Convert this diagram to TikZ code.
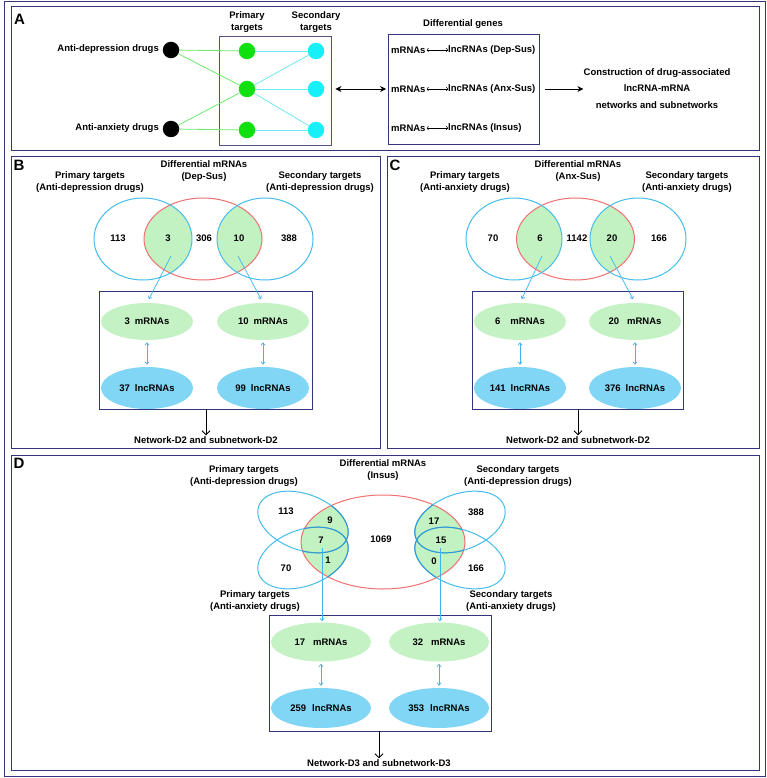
\documentclass[tikz,border=0pt]{standalone}
\usepackage{fontspec}
\setmainfont{Liberation Sans}
\usetikzlibrary{arrows.meta,shapes.geometric}
\definecolor{navy}{HTML}{34347A}
\definecolor{vblue}{HTML}{45BDEB}
\definecolor{vdblue}{HTML}{3596D0}
\definecolor{vred}{HTML}{F07070}
\definecolor{vgreen}{HTML}{C2F2C2}
\definecolor{mfill}{HTML}{C4F2C4}
\definecolor{lfill}{HTML}{80D6F4}
\definecolor{dotgreen}{HTML}{10E010}
\definecolor{dotcyan}{HTML}{18F0F8}
\definecolor{lgline}{HTML}{6CEC6C}
\definecolor{lcline}{HTML}{70E8F4}
\definecolor{arrblue}{HTML}{40B4EC}
\begin{document}
\begin{tikzpicture}[x=1pt,y=-1pt,
  txt/.style={font=\bfseries\fontsize{9.5}{12}\selectfont, align=center, inner sep=0pt},
  bigtxt/.style={font=\bfseries\fontsize{9.5}{16.5}\selectfont, align=center, inner sep=0pt},
  plabel/.style={font=\bfseries\fontsize{15}{15}\selectfont, inner sep=0pt},
  panel/.style={draw=navy, line width=1pt},
  ibox/.style={draw=navy, line width=0.9pt, inner sep=0pt},
  gbox/.style={draw=navy!60!gray, line width=0.9pt, inner sep=0pt},
  dotk/.style={circle, fill=black, minimum size=16.5pt, inner sep=0pt},
  dotg/.style={circle, fill=dotgreen, minimum size=16.5pt, inner sep=0pt},
  dotc/.style={circle, fill=dotcyan, minimum size=16.5pt, inner sep=0pt},
  gline/.style={lgline, line width=0.8pt},
  cline/.style={lcline, line width=0.8pt},
  mell/.style={ellipse, fill=mfill, minimum width=92pt, minimum height=37pt, inner sep=0pt, txt},
  lell/.style={ellipse, fill=lfill, minimum width=92pt, minimum height=42pt, inner sep=0pt, txt},
  mellD/.style={ellipse, fill=mfill, minimum width=100pt, minimum height=39pt, inner sep=0pt, txt},
  lellD/.style={ellipse, fill=lfill, minimum width=100pt, minimum height=40pt, inner sep=0pt, txt},
  barr/.style={arrblue, line width=0.7pt, -{Straight Barb[length=2.5pt,width=4pt]}},
  barr2/.style={arrblue, line width=0.7pt, {Straight Barb[length=2.5pt,width=4pt]}-{Straight Barb[length=2.5pt,width=4pt]}, shorten <=2pt, shorten >=2pt},
  karr/.style={black, line width=0.9pt, -{Straight Barb[length=4pt,width=8pt]}},
  vb/.style={vblue, line width=1pt},
  vr/.style={vred, line width=1pt},
]
\useasboundingbox (0,0) rectangle (767,778);
\fill[white] (0,0) rectangle (767,778);
% outer border and panels
\draw[panel] (4,2) rectangle (765,776);
\draw[panel] (11,7) rectangle (759,151);
\draw[panel] (11,157) rectangle (380,448);
\draw[panel] (387,157) rectangle (759,448);
\draw[panel] (11,455) rectangle (759,770);

% ================= Panel A =================
\node[plabel] (labA) at (19.5,19) {A};
\node[txt, anchor=east] (dl1) at (159,49) {Anti-depression drugs};
\node[txt, anchor=east] (dl2) at (159,128) {Anti-anxiety drugs};
\node[gbox, minimum width=112pt, minimum height=109pt] (tbox) at (275,90.5) {};
\node[txt] (ptA) at (247,22) {Primary\\targets};
\node[txt] (stA) at (316,22) {Secondary\\targets};
\node[dotk] (d1) at (171,50) {};
\node[dotk] (d2) at (171,129) {};
\node[dotg] (g1) at (247,51) {};
\node[dotg] (g2) at (247,89) {};
\node[dotg] (g3) at (247,130) {};
\node[dotc] (c1) at (316,51) {};
\node[dotc] (c2) at (316,89) {};
\node[dotc] (c3) at (316,130) {};
\draw[gline] (d1) -- (g1);
\draw[gline] (d1) -- (g2);
\draw[gline] (d2) -- (g2);
\draw[gline] (d2) -- (g3);
\draw[cline] (g1) -- (c1);
\draw[cline] (g2) -- (c1);
\draw[cline] (g2) -- (c2);
\draw[cline] (g2) -- (c3);
\draw[cline] (g3) -- (c3);

\node[ibox, minimum width=151pt, minimum height=110pt] (dgbox) at (463.5,89) {};
\node[txt] (dgt) at (463,24) {Differential genes};
\draw[black, line width=0.9pt, {Stealth[length=6pt,width=6pt]}-{Stealth[length=6pt,width=6pt]}, shorten <=4pt, shorten >=1.5pt] (tbox.east |- dgbox.west) -- (dgbox.west);

\node[txt, anchor=west] (m1) at (391,50) {mRNAs};
\node[txt, anchor=west] (l1) at (448,50) {lncRNAs (Dep-Sus)};
\node[txt, anchor=west] (m2) at (391,89) {mRNAs};
\node[txt, anchor=west] (l2) at (448,89) {lncRNAs (Anx-Sus)};
\node[txt, anchor=west] (m3) at (391,128) {mRNAs};
\node[txt, anchor=west] (l3) at (448,128) {lncRNAs (Insus)};
\draw[line width=0.5pt, {To[length=2pt,width=4pt]}-{To[length=2pt,width=4pt]}] (m1.east) ++(1pt,0) coordinate (m1e) (m1e) -- (l1.west);
\draw[line width=0.5pt, {To[length=2pt,width=4pt]}-{To[length=2pt,width=4pt]}] (m2.east) ++(1pt,0) coordinate (m2e) (m2e) -- (l2.west);
\draw[line width=0.5pt, {To[length=2pt,width=4pt]}-{To[length=2pt,width=4pt]}] (m3.east) ++(1pt,0) coordinate (m3e) (m3e) -- (l3.west);

\node[bigtxt] (cons) at (657,88.5) {Construction of drug-associated\\lncRNA-mRNA\\networks and subnetworks};
\draw[black, line width=0.9pt, -{Stealth[length=6pt,width=6pt]}, shorten <=6pt] (dgbox.east) -- (cons.west |- dgbox.east);

% ================= Panel B =================
\node[plabel] (labB) at (19,165.5) {B};
\node[txt] (dtB) at (204,171.5) {Differential mRNAs\\(Dep-Sus)};
\node[txt] (ptB) at (90,182.5) {Primary targets\\(Anti-depression drugs)};
\node[txt] (stB) at (320,182.5) {Secondary targets\\(Anti-depression drugs)};
\begin{scope}
  \clip (203,239) ellipse [x radius=59pt, y radius=41pt];
  \fill[vgreen] (143,239) ellipse [x radius=49pt, y radius=41pt];
  \fill[vgreen] (265,239) ellipse [x radius=48pt, y radius=41pt];
\end{scope}
\draw[vr] (203,239) ellipse [x radius=59pt, y radius=41pt];
\draw[vb] (143,239) ellipse [x radius=49pt, y radius=41pt];
\draw[vb] (265,239) ellipse [x radius=48pt, y radius=41pt];
\node[txt] (nB1) at (118,238) {113};
\node[txt] (nB2) at (168,238) {3};
\node[txt] (nB3) at (204,238) {306};
\node[txt] (nB4) at (239,238) {10};
\node[txt] (nB5) at (289,238) {388};
\node[ibox, minimum width=213pt, minimum height=118pt] (boxB) at (205.5,350) {};
\node[mell] (mB1) at (147,321.5) {3\hspace{5pt}mRNAs};
\node[mell] (mB2) at (263,321.5) {10\hspace{5pt}mRNAs};
\node[lell] (lB1) at (147,388) {37\hspace{5pt}lncRNAs};
\node[lell] (lB2) at (263,388) {99\hspace{5pt}lncRNAs};
\coordinate (vB1) at (171,256);
\coordinate (vB2) at (238,256);
\draw[barr, shorten >=4pt] (vB1) -- (mB1.north);
\draw[barr, shorten >=4pt] (vB2) -- (mB2.north);
\draw[barr2] (mB1) -- (lB1);
\draw[barr2] (mB2) -- (lB2);
\node[txt] (netB) at (206,440) {Network-D2 and subnetwork-D2};
\draw[karr, shorten >=1pt] (boxB.south -| netB.north) -- (netB.north);

% ================= Panel C =================
\node[plabel] (labC) at (395,165.5) {C};
\node[txt] (dtC) at (578,171.5) {Differential mRNAs\\(Anx-Sus)};
\node[txt] (ptC) at (465,182.5) {Primary targets\\(Anti-anxiety drugs)};
\node[txt] (stC) at (687,182.5) {Secondary targets\\(Anti-anxiety drugs)};
\begin{scope}
  \clip (575.5,239) ellipse [x radius=59pt, y radius=41pt];
  \fill[vgreen] (514,239) ellipse [x radius=48pt, y radius=41pt];
  \fill[vgreen] (638,239) ellipse [x radius=48pt, y radius=41pt];
\end{scope}
\draw[vr] (575.5,239) ellipse [x radius=59pt, y radius=41pt];
\draw[vb] (514,239) ellipse [x radius=48pt, y radius=41pt];
\draw[vb] (638,239) ellipse [x radius=48pt, y radius=41pt];
\node[txt] (nC1) at (493,238) {70};
\node[txt] (nC2) at (540,238) {6};
\node[txt] (nC3) at (577,238) {1142};
\node[txt] (nC4) at (612,238) {20};
\node[txt] (nC5) at (659,238) {166};
\node[ibox, minimum width=211pt, minimum height=118pt] (boxC) at (577.5,350) {};
\node[mell] (mC1) at (520,321.5) {6\hspace{10pt}mRNAs};
\node[mell] (mC2) at (635,321.5) {20\hspace{8pt}mRNAs};
\node[lell] (lC1) at (520,388) {141\hspace{5pt}lncRNAs};
\node[lell] (lC2) at (635,388) {376\hspace{5pt}lncRNAs};
\coordinate (vC1) at (542,256);
\coordinate (vC2) at (610,256);
\draw[barr, shorten >=4pt] (vC1) -- (mC1.north);
\draw[barr, shorten >=4pt] (vC2) -- (mC2.north);
\draw[barr2] (mC1) -- (lC1);
\draw[barr2] (mC2) -- (lC2);
\node[txt] (netC) at (578,440) {Network-D2 and subnetwork-D2};
\draw[karr, shorten >=1pt] (boxC.south -| netC.north) -- (netC.north);

% ================= Panel D =================
\node[plabel] (labD) at (19,463.5) {D};
\node[txt] (dtD) at (383,470) {Differential mRNAs\\(Insus)};
\node[txt] (ptD1) at (244,476.5) {Primary targets\\(Anti-depression drugs)};
\node[txt] (stD1) at (518,476.5) {Secondary targets\\(Anti-depression drugs)};
\node[txt] (ptD2) at (255,601) {Primary targets\\(Anti-anxiety drugs)};
\node[txt] (stD2) at (511,601) {Secondary targets\\(Anti-anxiety drugs)};
\begin{scope}
  \clip (383,542) ellipse [x radius=82pt, y radius=47pt];
  \fill[vgreen, rotate around={-20:(303,522)}] (303,522) ellipse [x radius=47pt, y radius=28pt];
  \fill[vgreen, rotate around={20:(303,558)}] (303,558) ellipse [x radius=47pt, y radius=28pt];
  \fill[vgreen, rotate around={20:(460,522)}] (460,522) ellipse [x radius=47pt, y radius=28pt];
  \fill[vgreen, rotate around={-20:(460,558)}] (460,558) ellipse [x radius=47pt, y radius=28pt];
\end{scope}
\draw[vr] (383,542) ellipse [x radius=82pt, y radius=47pt];
\draw[vb, rotate around={-20:(303,522)}] (303,522) ellipse [x radius=47pt, y radius=28pt];
\draw[vb, rotate around={20:(303,558)}] (303,558) ellipse [x radius=47pt, y radius=28pt];
\draw[vb, rotate around={20:(460,522)}] (460,522) ellipse [x radius=47pt, y radius=28pt];
\draw[vb, rotate around={-20:(460,558)}] (460,558) ellipse [x radius=47pt, y radius=28pt];
\begin{scope}
  \clip (383,542) ellipse [x radius=82pt, y radius=47pt];
  \draw[vdblue, line width=1pt, rotate around={-20:(303,522)}] (303,522) ellipse [x radius=47pt, y radius=28pt];
  \draw[vdblue, line width=1pt, rotate around={20:(303,558)}] (303,558) ellipse [x radius=47pt, y radius=28pt];
  \draw[vdblue, line width=1pt, rotate around={20:(460,522)}] (460,522) ellipse [x radius=47pt, y radius=28pt];
  \draw[vdblue, line width=1pt, rotate around={-20:(460,558)}] (460,558) ellipse [x radius=47pt, y radius=28pt];
\end{scope}
\node[txt] (nD1) at (286,511) {113};
\node[txt] (nD2) at (330,520) {9};
\node[txt] (nD3) at (321,540) {7};
\node[txt] (nD4) at (328,560) {1};
\node[txt] (nD5) at (286,568) {70};
\node[txt] (nD6) at (381,539) {1069};
\node[txt] (nD7) at (434,521) {17};
\node[txt] (nD8) at (441,540) {15};
\node[txt] (nD9) at (434,561) {0};
\node[txt] (nD10) at (476,512) {388};
\node[txt] (nD11) at (476,568) {166};
\node[ibox, minimum width=222pt, minimum height=116pt] (boxD) at (380,673) {};
\node[mellD] (mD1) at (321,642) {17\hspace{8pt}mRNAs};
\node[mellD] (mD2) at (439,642) {32\hspace{8pt}mRNAs};
\node[lellD] (lD1) at (321,708) {259\hspace{6pt}lncRNAs};
\node[lellD] (lD2) at (439,708) {353\hspace{6pt}lncRNAs};
\coordinate (vD1) at (322,548);
\coordinate (vD2) at (440,548);
\draw[barr, shorten >=1pt] (vD1) -- (vD1 |- mD1.north);
\draw[barr, shorten >=1pt] (vD2) -- (vD2 |- mD2.north);
\draw[barr2] (mD1) -- (lD1);
\draw[barr2] (mD2) -- (lD2);
\node[txt] (netD) at (379,763) {Network-D3 and subnetwork-D3};
\draw[karr, shorten >=1pt] (boxD.south -| netD.north) -- (netD.north);
\end{tikzpicture}
\end{document}
